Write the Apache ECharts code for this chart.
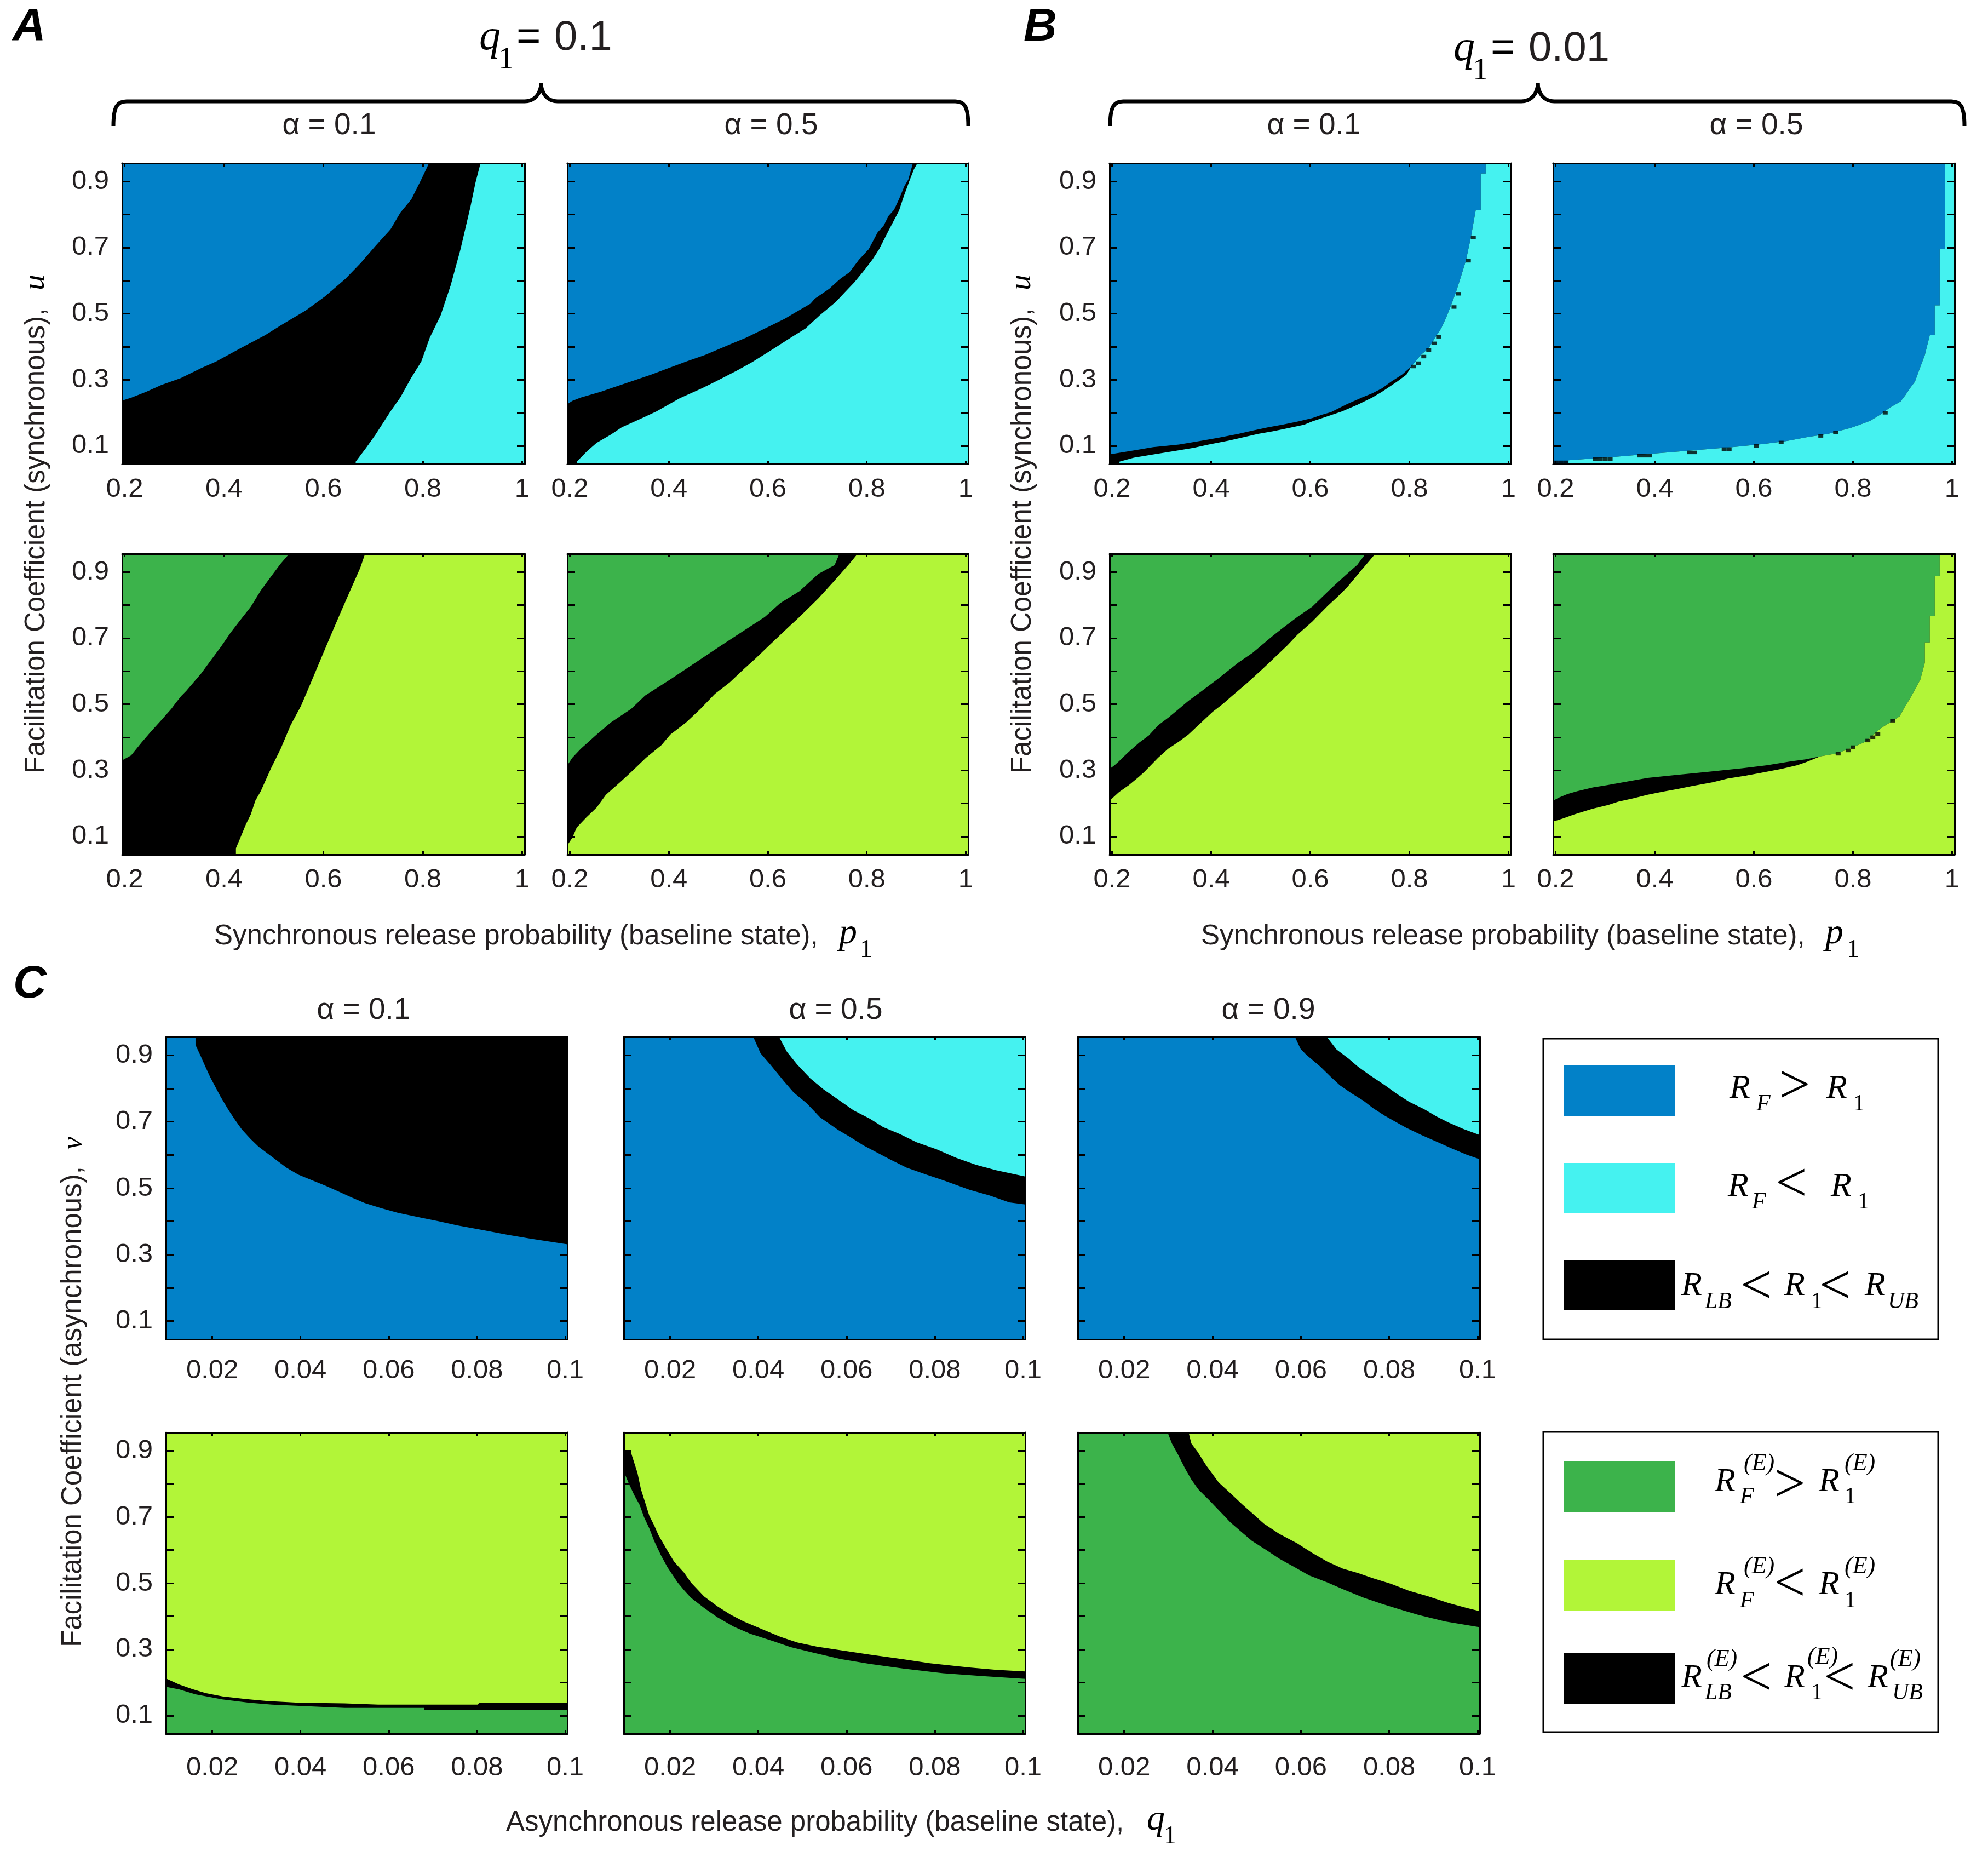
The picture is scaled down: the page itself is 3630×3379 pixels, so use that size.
<!DOCTYPE html>
<html>

<head>
    <meta charset="utf-8"/>
    <style>
        html, body {
            height: 100%;
            margin: 0;
            padding: 0;
            background: #ffffff;
        }

        .container {
            width: 100%;
            height: 100%;
        }
    </style>
</head>

<body>
<div id="main" class="container"></div>

<script src="https://cdn.jsdelivr.net/npm/echarts@6/dist/echarts.min.js"></script>
<script type="text/javascript">
    // tick labels
    var xTicksP = [0.2, 0.4, 0.6, 0.8, 1];
    var xTicksQ = [0.02, 0.04, 0.06, 0.08, 0.1];
    var yTicks = [0.1, 0.2, 0.3, 0.4, 0.5, 0.6, 0.7, 0.8, 0.9];
    var yLabels = [0.1, 0.3, 0.5, 0.7, 0.9];

    // region boundaries, [x, coefficient]
    // "upper" is the top of the black band, "lower" its bottom
    var a1Upper = [[0.195,0.237],[0.214,0.246],[0.244,0.264],[0.274,0.284],[0.313,0.305],[0.354,0.335],[0.384,0.355],[0.433,0.395],[0.483,0.435],[0.515,0.465],[0.565,0.51],[0.603,0.552],[0.644,0.605],[0.675,0.653],[0.705,0.705],[0.735,0.755],[0.755,0.806],[0.777,0.846],[0.797,0.906],[0.814,0.96],[1.005,0.96]];
    var a1Lower = [[0.665,0.04],[0.665,0.052],[0.686,0.094],[0.705,0.134],[0.735,0.204],[0.755,0.247],[0.776,0.304],[0.797,0.355],[0.814,0.427],[0.836,0.495],[0.856,0.585],[0.876,0.695],[0.896,0.824],[0.906,0.896],[0.917,0.96],[1.005,0.96]];
    var a2Upper = [[0.195,0.226],[0.205,0.236],[0.222,0.246],[0.263,0.264],[0.283,0.274],[0.324,0.295],[0.364,0.315],[0.403,0.337],[0.435,0.355],[0.473,0.375],[0.505,0.395],[0.524,0.407],[0.556,0.427],[0.594,0.455],[0.635,0.485],[0.654,0.502],[0.686,0.53],[0.695,0.545],[0.724,0.575],[0.746,0.605],[0.765,0.625],[0.784,0.663],[0.804,0.695],[0.822,0.746],[0.834,0.766],[0.844,0.796],[0.855,0.814],[0.865,0.846],[0.876,0.886],[0.884,0.906],[0.894,0.96],[1.005,0.96]];
    var a2Lower = [[0.214,0.04],[0.214,0.052],[0.235,0.084],[0.254,0.109],[0.283,0.134],[0.305,0.156],[0.346,0.184],[0.375,0.204],[0.422,0.244],[0.467,0.274],[0.495,0.295],[0.537,0.327],[0.568,0.353],[0.613,0.395],[0.644,0.425],[0.676,0.455],[0.705,0.495],[0.737,0.535],[0.756,0.565],[0.775,0.595],[0.797,0.635],[0.812,0.665],[0.825,0.695],[0.844,0.751],[0.865,0.811],[0.875,0.856],[0.886,0.901],[0.895,0.936],[0.904,0.96],[1.005,0.96]];
    var a3Upper = [[0.195,0.33],[0.213,0.345],[0.234,0.384],[0.253,0.417],[0.274,0.452],[0.294,0.486],[0.303,0.504],[0.314,0.525],[0.324,0.54],[0.354,0.593],[0.374,0.634],[0.394,0.674],[0.413,0.716],[0.433,0.755],[0.454,0.795],[0.474,0.844],[0.494,0.885],[0.514,0.925],[0.534,0.96],[1.005,0.96]];
    var a3Lower = [[0.424,0.04],[0.424,0.064],[0.433,0.096],[0.444,0.136],[0.454,0.167],[0.463,0.208],[0.474,0.237],[0.494,0.304],[0.514,0.365],[0.534,0.436],[0.555,0.495],[0.574,0.562],[0.594,0.634],[0.614,0.705],[0.634,0.775],[0.654,0.844],[0.674,0.912],[0.685,0.96],[1.005,0.96]];
    var a4Upper = [[0.195,0.315],[0.205,0.338],[0.222,0.365],[0.254,0.408],[0.283,0.445],[0.324,0.486],[0.352,0.526],[0.403,0.575],[0.454,0.626],[0.505,0.677],[0.552,0.723],[0.594,0.764],[0.625,0.806],[0.664,0.842],[0.702,0.894],[0.735,0.921],[0.746,0.96],[1.005,0.96]];
    var a4Lower = [[0.195,0.073],[0.205,0.096],[0.214,0.127],[0.233,0.157],[0.254,0.187],[0.273,0.226],[0.303,0.266],[0.324,0.295],[0.354,0.338],[0.385,0.376],[0.403,0.408],[0.435,0.445],[0.464,0.486],[0.493,0.531],[0.523,0.566],[0.552,0.607],[0.575,0.638],[0.603,0.678],[0.641,0.732],[0.664,0.764],[0.702,0.82],[0.733,0.871],[0.765,0.925],[0.784,0.96],[1.005,0.96]];
    var b1Upper = [[0.195,0.074],[0.244,0.086],[0.283,0.096],[0.335,0.104],[0.376,0.114],[0.414,0.124],[0.455,0.136],[0.484,0.146],[0.515,0.156],[0.544,0.164],[0.576,0.174],[0.604,0.184],[0.624,0.194],[0.642,0.202],[0.674,0.226],[0.704,0.246],[0.725,0.259],[0.745,0.274],[0.763,0.294],[0.785,0.315],[0.804,0.34],[0.823,0.375],[0.839,0.395],[0.855,0.435],[0.864,0.455],[0.874,0.487],[0.884,0.525],[0.894,0.565],[0.903,0.607],[0.914,0.66],[0.924,0.73],[0.934,0.814],[0.944,0.814],[0.944,0.924],[0.954,0.924],[0.954,0.96],[1.005,0.96]];
    var b1Lower = [[0.215,0.04],[0.215,0.052],[0.244,0.064],[0.284,0.074],[0.325,0.084],[0.365,0.094],[0.395,0.104],[0.436,0.116],[0.465,0.126],[0.495,0.136],[0.525,0.144],[0.557,0.154],[0.588,0.164],[0.604,0.174],[0.624,0.184],[0.664,0.204],[0.695,0.224],[0.725,0.246],[0.745,0.264],[0.775,0.294],[0.794,0.315],[0.804,0.34],[0.823,0.375],[0.839,0.395],[0.855,0.435],[0.864,0.455],[0.874,0.487],[0.884,0.525],[0.894,0.565],[0.903,0.607],[0.914,0.66],[0.924,0.73],[0.934,0.814],[0.944,0.814],[0.944,0.924],[0.954,0.924],[0.954,0.96],[1.005,0.96]];
    var b1Dots = [[0.808,0.34],[0.818,0.35],[0.829,0.37],[0.839,0.39],[0.85,0.41],[0.859,0.43],[0.89,0.52],[0.899,0.56],[0.919,0.66],[0.929,0.73]];
    var b2Lower = [[0.226,0.04],[0.226,0.056],[0.316,0.066],[0.395,0.076],[0.475,0.086],[0.557,0.096],[0.622,0.106],[0.665,0.114],[0.706,0.126],[0.75,0.136],[0.795,0.154],[0.814,0.164],[0.835,0.176],[0.855,0.194],[0.875,0.216],[0.896,0.234],[0.906,0.254],[0.915,0.274],[0.925,0.294],[0.935,0.335],[0.945,0.375],[0.955,0.435],[0.965,0.435],[0.965,0.525],[0.975,0.525],[0.975,0.695],[0.986,0.695],[0.986,0.96],[1.005,0.96]];
    var b2Dots = [[0.2,0.05],[0.21,0.05],[0.22,0.05],[0.28,0.06],[0.29,0.06],[0.3,0.06],[0.31,0.06],[0.37,0.07],[0.38,0.07],[0.39,0.07],[0.47,0.08],[0.48,0.08],[0.54,0.09],[0.55,0.09],[0.605,0.1],[0.655,0.11],[0.735,0.13],[0.765,0.14],[0.865,0.2]];
    var b3Upper = [[0.195,0.304],[0.205,0.315],[0.214,0.327],[0.224,0.342],[0.234,0.356],[0.255,0.384],[0.274,0.405],[0.293,0.436],[0.314,0.46],[0.335,0.486],[0.354,0.51],[0.384,0.543],[0.413,0.576],[0.433,0.6],[0.455,0.626],[0.484,0.656],[0.503,0.68],[0.523,0.705],[0.544,0.73],[0.574,0.764],[0.604,0.795],[0.624,0.824],[0.644,0.853],[0.674,0.894],[0.695,0.922],[0.714,0.96],[1.005,0.96]];
    var b3Lower = [[0.195,0.208],[0.214,0.234],[0.234,0.255],[0.254,0.28],[0.265,0.295],[0.293,0.338],[0.313,0.365],[0.335,0.387],[0.354,0.408],[0.374,0.436],[0.403,0.477],[0.423,0.5],[0.443,0.526],[0.474,0.566],[0.504,0.607],[0.523,0.634],[0.554,0.678],[0.574,0.71],[0.604,0.75],[0.635,0.797],[0.655,0.825],[0.674,0.853],[0.704,0.907],[0.734,0.96],[1.005,0.96]];
    var b4Upper = [[0.195,0.208],[0.206,0.217],[0.224,0.228],[0.244,0.237],[0.275,0.248],[0.304,0.255],[0.344,0.266],[0.386,0.277],[0.445,0.286],[0.504,0.295],[0.576,0.306],[0.626,0.315],[0.675,0.327],[0.704,0.333],[0.734,0.342],[0.767,0.351],[0.796,0.367],[0.826,0.387],[0.856,0.427],[0.875,0.445],[0.894,0.463],[0.904,0.49],[0.915,0.517],[0.925,0.544],[0.936,0.575],[0.945,0.626],[0.945,0.687],[0.955,0.687],[0.955,0.766],[0.965,0.766],[0.965,0.887],[0.975,0.887],[0.975,0.96],[1.005,0.96]];
    var b4Lower = [[0.195,0.145],[0.216,0.155],[0.235,0.165],[0.256,0.175],[0.275,0.184],[0.306,0.195],[0.326,0.205],[0.356,0.215],[0.386,0.226],[0.416,0.235],[0.445,0.243],[0.475,0.252],[0.517,0.264],[0.547,0.275],[0.585,0.284],[0.616,0.293],[0.655,0.304],[0.687,0.315],[0.704,0.324],[0.734,0.342],[0.767,0.351],[0.796,0.367],[0.826,0.387],[0.856,0.427],[0.875,0.445],[0.894,0.463],[0.904,0.49],[0.915,0.517],[0.925,0.544],[0.936,0.575],[0.945,0.626],[0.945,0.687],[0.955,0.687],[0.955,0.766],[0.965,0.766],[0.965,0.887],[0.975,0.887],[0.975,0.96],[1.005,0.96]];
    var b4Dots = [[0.77,0.35],[0.79,0.36],[0.8,0.37],[0.83,0.39],[0.84,0.4],[0.85,0.41],[0.88,0.45]];
    var c1Upper = [[0.0095,0.96],[0.1005,0.96]];
    var c1Lower = [[0.0095,0.96],[0.0162,0.96],[0.0162,0.931],[0.0174,0.897],[0.0185,0.864],[0.0195,0.835],[0.0207,0.805],[0.0219,0.775],[0.0237,0.735],[0.0252,0.705],[0.0267,0.677],[0.0287,0.648],[0.0305,0.625],[0.0328,0.602],[0.0347,0.583],[0.0368,0.562],[0.0395,0.541],[0.0426,0.524],[0.0456,0.508],[0.0486,0.49],[0.0516,0.472],[0.0546,0.455],[0.0583,0.44],[0.0621,0.426],[0.0674,0.411],[0.0711,0.401],[0.0756,0.388],[0.0817,0.373],[0.0869,0.36],[0.0922,0.348],[0.1005,0.331]];
    var c2Upper = [[0.0095,0.96],[0.0445,0.96],[0.0465,0.91],[0.0488,0.872],[0.0518,0.83],[0.0548,0.797],[0.0585,0.763],[0.0616,0.734],[0.0653,0.709],[0.0683,0.684],[0.0721,0.663],[0.0759,0.638],[0.0804,0.617],[0.0849,0.591],[0.0894,0.57],[0.0939,0.554],[0.1005,0.535]];
    var c2Lower = [[0.0095,0.96],[0.0387,0.96],[0.0405,0.906],[0.0427,0.872],[0.0458,0.822],[0.048,0.788],[0.051,0.755],[0.054,0.713],[0.0581,0.675],[0.0608,0.654],[0.0638,0.629],[0.0668,0.608],[0.0698,0.587],[0.0736,0.562],[0.0781,0.541],[0.0819,0.524],[0.0879,0.495],[0.0924,0.478],[0.0969,0.457],[0.1005,0.451]];
    var c3Upper = [[0.0095,0.96],[0.0656,0.96],[0.0681,0.917],[0.0708,0.89],[0.0729,0.866],[0.0756,0.84],[0.079,0.81],[0.0818,0.783],[0.0845,0.76],[0.0879,0.738],[0.0907,0.716],[0.0934,0.698],[0.0968,0.678],[0.1005,0.66]];
    var c3Lower = [[0.0095,0.96],[0.0585,0.96],[0.0599,0.92],[0.0612,0.902],[0.0644,0.866],[0.0667,0.836],[0.0688,0.81],[0.0715,0.785],[0.0742,0.763],[0.0763,0.741],[0.079,0.718],[0.0818,0.697],[0.0838,0.682],[0.0873,0.66],[0.0914,0.636],[0.0941,0.62],[0.0975,0.601],[0.1005,0.587]];
    var c4Upper = [[0.0095,0.212],[0.0125,0.194],[0.0155,0.18],[0.0185,0.168],[0.0223,0.158],[0.0275,0.15],[0.0325,0.144],[0.0395,0.139],[0.05,0.137],[0.0576,0.133],[0.0802,0.133],[0.0805,0.139],[0.1005,0.139]];
    var c4Lower = [[0.0095,0.187],[0.0125,0.179],[0.0162,0.164],[0.0223,0.149],[0.0283,0.139],[0.0335,0.133],[0.0403,0.129],[0.05,0.123],[0.0681,0.123],[0.0681,0.116],[0.1005,0.116]];
    var c5Upper = [[0.0095,0.904],[0.0111,0.896],[0.0126,0.833],[0.0134,0.783],[0.0144,0.741],[0.0153,0.703],[0.0164,0.674],[0.0174,0.644],[0.0194,0.598],[0.0209,0.565],[0.0232,0.531],[0.0247,0.502],[0.0277,0.46],[0.0307,0.43],[0.0337,0.405],[0.0367,0.384],[0.0412,0.359],[0.045,0.338],[0.0488,0.321],[0.0533,0.308],[0.0593,0.296],[0.0653,0.284],[0.0729,0.27],[0.0789,0.258],[0.0879,0.245],[0.0939,0.238],[0.1005,0.233]];
    var c5Lower = [[0.0095,0.837],[0.0107,0.799],[0.0119,0.765],[0.0131,0.736],[0.0141,0.699],[0.0153,0.665],[0.0164,0.627],[0.0179,0.585],[0.0194,0.548],[0.0217,0.502],[0.0232,0.478],[0.0247,0.456],[0.0277,0.425],[0.0307,0.397],[0.0345,0.368],[0.0382,0.347],[0.0435,0.324],[0.0473,0.307],[0.0525,0.29],[0.0586,0.271],[0.0653,0.256],[0.0729,0.242],[0.0819,0.228],[0.0909,0.219],[0.1005,0.211]];
    var c6Upper = [[0.0095,0.96],[0.0345,0.96],[0.0352,0.922],[0.0366,0.897],[0.0386,0.855],[0.0414,0.804],[0.0441,0.771],[0.0468,0.737],[0.0495,0.705],[0.0516,0.68],[0.0551,0.649],[0.0592,0.62],[0.0626,0.591],[0.066,0.565],[0.0695,0.544],[0.073,0.53],[0.0763,0.515],[0.0804,0.498],[0.0845,0.477],[0.0886,0.461],[0.0934,0.44],[0.0975,0.425],[0.1005,0.415]];
    var c6Lower = [[0.0095,0.96],[0.0297,0.96],[0.0308,0.922],[0.0322,0.888],[0.0338,0.846],[0.0352,0.813],[0.0368,0.783],[0.0393,0.75],[0.042,0.712],[0.0441,0.683],[0.0468,0.652],[0.0489,0.628],[0.0523,0.599],[0.0551,0.574],[0.0585,0.549],[0.0619,0.523],[0.066,0.502],[0.0695,0.482],[0.0742,0.456],[0.0784,0.437],[0.0818,0.423],[0.0866,0.404],[0.0927,0.384],[0.1005,0.367]];

    var BLUE = '#0281c8', CYAN = '#45f2f0', GREEN = '#3cb34b', LIME = '#b2f538', BLACK = '#000000';
    var SANS = '"Liberation Sans"', SERIF = '"Liberation Serif"', INK = '#231f20';

    // px boxes of the panels
    var rowAB1 = [298, 549], rowAB2 = [1011, 549], rowC1 = [1893, 552], rowC2 = [2615, 550];
    var panels = [
        {l: 223, w: 735, row: rowAB1, p: true, top: BLUE, bottom: CYAN, upper: a1Upper, lower: a1Lower, labels: true},
        {l: 1036, w: 732, row: rowAB1, p: true, top: BLUE, bottom: CYAN, upper: a2Upper, lower: a2Lower},
        {l: 223, w: 735, row: rowAB2, p: true, top: GREEN, bottom: LIME, upper: a3Upper, lower: a3Lower, labels: true},
        {l: 1036, w: 732, row: rowAB2, p: true, top: GREEN, bottom: LIME, upper: a4Upper, lower: a4Lower},
        {l: 2026, w: 733, row: rowAB1, p: true, top: BLUE, bottom: CYAN, upper: b1Upper, lower: b1Lower, dots: b1Dots, labels: true},
        {l: 2836, w: 733, row: rowAB1, p: true, top: BLUE, bottom: CYAN, upper: b2Lower, lower: b2Lower, dots: b2Dots},
        {l: 2026, w: 733, row: rowAB2, p: true, top: GREEN, bottom: LIME, upper: b3Upper, lower: b3Lower, labels: true},
        {l: 2836, w: 733, row: rowAB2, p: true, top: GREEN, bottom: LIME, upper: b4Upper, lower: b4Lower, dots: b4Dots},
        {l: 303, w: 733, row: rowC1, top: CYAN, bottom: BLUE, upper: c1Upper, lower: c1Lower, labels: true},
        {l: 1139, w: 733, row: rowC1, top: CYAN, bottom: BLUE, upper: c2Upper, lower: c2Lower},
        {l: 1968, w: 734, row: rowC1, top: CYAN, bottom: BLUE, upper: c3Upper, lower: c3Lower},
        {l: 303, w: 733, row: rowC2, top: LIME, bottom: GREEN, upper: c4Upper, lower: c4Lower, labels: true},
        {l: 1139, w: 733, row: rowC2, top: LIME, bottom: GREEN, upper: c5Upper, lower: c5Lower},
        {l: 1968, w: 734, row: rowC2, top: LIME, bottom: GREEN, upper: c6Upper, lower: c6Lower}
    ];

    var grids = [], xAxes = [], yAxes = [], series = [];

    function makeAxis(dim, gridIndex, position, p, isMain, showLabels, panelRow) {
        var isX = dim === 'x';
        return {
            type: 'value',
            gridIndex: gridIndex,
            position: position,
            min: isX ? (p.p ? 0.195 : 0.0095) : 0.045,
            max: isX ? (p.p ? 1.005 : 0.1005) : 0.955,
            z: 10,
            splitLine: {show: false},
            axisLine: {show: true, onZero: false, lineStyle: {color: '#000000', width: 3}},
            axisTick: {
                show: true,
                inside: true,
                length: isX ? 6 : 14,
                customValues: isX ? (p.p ? xTicksP : xTicksQ) : yTicks,
                lineStyle: {color: '#000000', width: 3}
            },
            axisLabel: {
                show: isMain && (isX || showLabels),
                customValues: isX ? (p.p ? xTicksP : xTicksQ) : yLabels,
                margin: isX ? (p.p ? 22 : (panelRow === rowC1 ? 33 : 38)) : 24,
                padding: isX ? 0 : [4, 0, 0, 0],
                fontFamily: SANS,
                fontSize: 49,
                color: INK
            }
        };
    }

    function bandSeries(data, color) {
        return {
            type: 'line',
            xAxisIndex: xAxes.length - 2,
            yAxisIndex: yAxes.length - 2,
            data: data,
            symbol: 'none',
            silent: true,
            lineStyle: {width: 0},
            itemStyle: {color: color},
            areaStyle: {color: color, opacity: 1, origin: 'start'}
        };
    }

    panels.forEach(function (p, i) {
        grids.push({
            left: p.l, top: p.row[0], width: p.w, height: p.row[1],
            show: true, borderWidth: 0, backgroundColor: p.top
        });
        xAxes.push(makeAxis('x', i, 'bottom', p, true, true, p.row));
        xAxes.push(makeAxis('x', i, 'top', p, false, false, p.row));
        yAxes.push(makeAxis('y', i, 'left', p, true, p.labels, p.row));
        yAxes.push(makeAxis('y', i, 'right', p, false, false, p.row));
        series.push(bandSeries(p.upper, BLACK));
        series.push(bandSeries(p.lower, p.bottom));
        if (p.dots) {
            series.push({
                type: 'scatter',
                xAxisIndex: xAxes.length - 2,
                yAxisIndex: yAxes.length - 2,
                data: p.dots,
                symbol: 'rect',
                symbolSize: [9, 6.4],
                silent: true,
                z: 5,
                itemStyle: {color: BLACK}
            });
        }
    });

    // all free text goes through here: x, baseline y, string
    function label(x, base, str, size, opt) {
        opt = opt || {};
        var family = opt.serif ? SERIF : SANS;
        var style = (opt.italic ? 'italic ' : '') + (opt.bold ? 'bold ' : '');
        var rot = opt.rot || 0;
        var shift = size * 0.34;
        return {
            type: 'text',
            x: rot ? base - shift : x,
            y: rot ? x : base - shift,
            rotation: rot,
            z: 20,
            style: {
                text: str,
                font: style + size + 'px ' + family,
                fill: opt.color || INK,
                textAlign: opt.align || 'left',
                verticalAlign: 'middle',
                textVerticalAlign: 'middle'
            }
        };
    }

    function mathIt(x, base, str, size) {
        return label(x, base, str, size, {serif: true, italic: true, color: '#000000'});
    }

    function rel(x, midY, str) {
        return label(x - 16, midY + 34, str, 102, {serif: true, color: '#000000'});
    }

    // the brace is four curves and two straight runs
    var braceStyle = {fill: 'none', stroke: '#000000', lineWidth: 7};
    function curve(x1, y1, cx1, cy1, cx2, cy2, x2, y2) {
        return {type: 'bezierCurve', z: 20, shape: {x1: x1, y1: y1, cpx1: cx1, cpy1: cy1, cpx2: cx2, cpy2: cy2, x2: x2, y2: y2}, style: braceStyle};
    }
    function run(x1, x2, y) {
        return {type: 'line', z: 20, shape: {x1: x1, y1: y, x2: x2, y2: y}, style: braceStyle};
    }
    function brace(xl, xm, xr) {
        var y = 185, tip = 151, end = 230;
        return [
            curve(xl, end, xl, y + 8, xl + 8, y, xl + 24, y),
            run(xl + 24, xm - 30, y),
            curve(xm - 30, y, xm - 12, y, xm, y - 14, xm, tip),
            curve(xm, tip, xm, y - 14, xm + 12, y, xm + 30, y),
            run(xm + 30, xr - 24, y),
            curve(xr - 24, y, xr - 8, y, xr, y + 8, xr, end)
        ];
    }

    function swatch(x, y, w, h, color) {
        return {type: 'rect', z: 20, shape: {x: x, y: y, width: w, height: h}, style: {fill: color}};
    }

    function box(x, y, w, h) {
        return {type: 'rect', z: 19, shape: {x: x, y: y, width: w, height: h}, style: {fill: '#ffffff', stroke: '#000000', lineWidth: 3}};
    }

    var g = [];

    // panel letters
    g.push(label(23, 79, 'A', 84, {bold: true, italic: true, color: '#000000'}));
    g.push(label(1869, 79, 'B', 84, {bold: true, italic: true, color: '#000000'}));
    g.push(label(24, 1826, 'C', 84, {bold: true, italic: true, color: '#000000'}));

    // q1 headers and braces
    g.push(mathIt(875, 96, 'q', 78));
    g.push(label(910, 129, '1', 56, {serif: true, color: '#000000'}));
    g.push(label(943, 96, '=', 76, {color: '#000000'}));
    g.push(label(1012, 96, '0.1', 76));
    g.push(mathIt(2654, 116, 'q', 78));
    g.push(label(2689, 149, '1', 56, {serif: true, color: '#000000'}));
    g.push(label(2722, 116, '=', 76, {color: '#000000'}));
    g.push(label(2791, 116, '0.01', 76));
    g = g.concat(brace(207, 988, 1768), brace(2027, 2808, 3587));

    // alpha headers
    g.push(label(601, 249, 'α = 0.1', 55, {align: 'center'}));
    g.push(label(1408, 249, 'α = 0.5', 55, {align: 'center'}));
    g.push(label(2399, 249, 'α = 0.1', 55, {align: 'center'}));
    g.push(label(3207, 249, 'α = 0.5', 55, {align: 'center'}));
    g.push(label(664, 1864, 'α = 0.1', 55, {align: 'center'}));
    g.push(label(1526, 1864, 'α = 0.5', 55, {align: 'center'}));
    g.push(label(2316, 1864, 'α = 0.9', 55, {align: 'center'}));

    // axis titles
    g.push(label(391, 1727, 'Synchronous release probability (baseline state),', 51));
    g.push(mathIt(1532, 1727, 'p', 66));
    g.push(label(1570, 1751, '1', 46, {serif: true, color: '#000000'}));
    g.push(label(2193, 1727, 'Synchronous release probability (baseline state),', 51));
    g.push(mathIt(3333, 1727, 'p', 66));
    g.push(label(3372, 1751, '1', 46, {serif: true, color: '#000000'}));
    g.push(label(924, 3345, 'Asynchronous release probability (baseline state),', 51));
    g.push(mathIt(2094, 3345, 'q', 66));
    g.push(label(2125, 3369, '1', 46, {serif: true, color: '#000000'}));

    var ROT = Math.PI / 2;
    g.push(label(1412, 84, 'Facilitation Coefficient (synchronous),', 51, {rot: ROT}));
    g.push(label(530, 84, 'u', 58, {rot: ROT, serif: true, italic: true, color: '#000000'}));
    g.push(label(1412, 1885, 'Facilitation Coefficient (synchronous),', 51, {rot: ROT}));
    g.push(label(530, 1885, 'u', 58, {rot: ROT, serif: true, italic: true, color: '#000000'}));
    g.push(label(3007, 151, 'Facilitation Coefficient (asynchronous),', 51, {rot: ROT}));
    g.push(label(2099, 153, 'v', 54, {rot: ROT, serif: true, italic: true, color: '#000000'}));

    // legend boxes
    g.push(box(2818, 1896, 721, 549));
    g.push(box(2818, 2614, 721, 548));
    [[1945, 93, BLUE], [2123, 92, CYAN], [2300, 92, BLACK], [2667, 93, GREEN], [2848, 93, LIME], [3017, 93, BLACK]].forEach(function (s) {
        g.push(swatch(2856, s[0], 203, s[1], s[2]));
    });

    // legend 1
    g.push(mathIt(3158, 2009, 'R', 62), mathIt(3207, 2030, 'F', 42), rel(3264, 1987, '>'), mathIt(3335, 2009, 'R', 62), label(3384, 2030, '1', 42, {serif: true, color: '#000000'}));
    g.push(mathIt(3155, 2188, 'R', 62), mathIt(3199, 2209, 'F', 42), rel(3258, 2166, '<'), mathIt(3343, 2188, 'R', 62), label(3392, 2209, '1', 42, {serif: true, color: '#000000'}));
    g.push(mathIt(3070, 2369, 'R', 62), mathIt(3113, 2391, 'LB', 42), rel(3194, 2353, '<'), mathIt(3258, 2369, 'R', 62), label(3307, 2391, '1', 42, {serif: true, color: '#000000'}), rel(3338, 2353, '<'), mathIt(3405, 2369, 'R', 62), mathIt(3447, 2391, 'UB', 42));

    // legend 2
    function eSup(x, base) {
        return mathIt(x, base, '(E)', 44);
    }
    g.push(mathIt(3131, 2727, 'R', 62), mathIt(3177, 2747, 'F', 42), eSup(3184, 2687), rel(3255, 2715, '>'), mathIt(3321, 2727, 'R', 62), label(3368, 2747, '1', 42, {serif: true, color: '#000000'}), eSup(3368, 2687));
    g.push(mathIt(3131, 2915, 'R', 62), mathIt(3177, 2937, 'F', 42), eSup(3184, 2875), rel(3255, 2896, '<'), mathIt(3321, 2915, 'R', 62), label(3368, 2937, '1', 42, {serif: true, color: '#000000'}), eSup(3368, 2875));
    g.push(mathIt(3070, 3085, 'R', 62), mathIt(3113, 3105, 'LB', 42), eSup(3116, 3044), rel(3194, 3068, '<'), mathIt(3258, 3085, 'R', 62), label(3307, 3105, '1', 42, {serif: true, color: '#000000'}), eSup(3300, 3040), rel(3346, 3068, '<'), mathIt(3410, 3085, 'R', 62), mathIt(3455, 3105, 'UB', 42), eSup(3451, 3044));

    var myChart = echarts.init(document.getElementById('main'));
    myChart.setOption({
        animation: false,
        backgroundColor: '#ffffff',
        grid: grids,
        xAxis: xAxes,
        yAxis: yAxes,
        series: series,
        graphic: {elements: g}
    });
</script>
</body>

</html>
